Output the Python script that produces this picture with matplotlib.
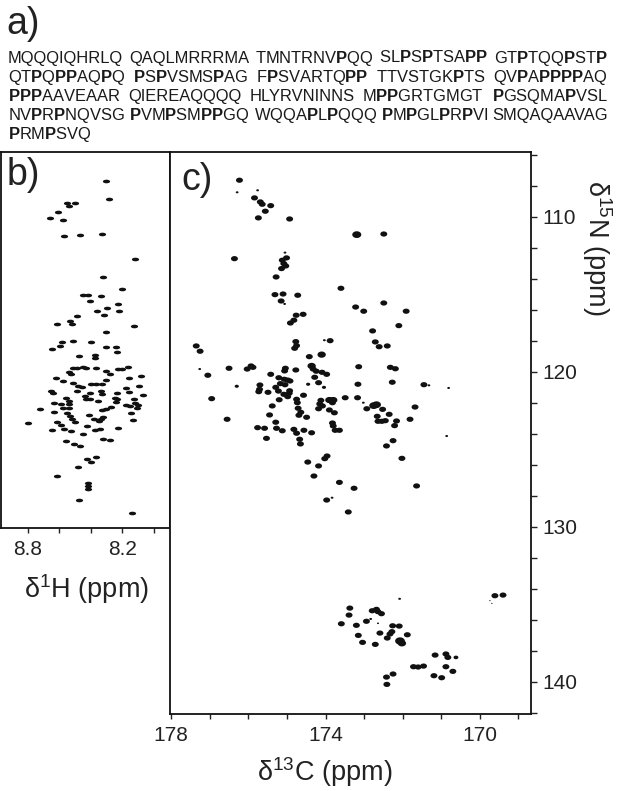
import re
import numpy as np
import matplotlib
matplotlib.use("Agg")
import matplotlib.pyplot as plt
from matplotlib.path import Path
from matplotlib.ticker import FixedLocator, MultipleLocator

plt.rcParams['font.family'] = ['Liberation Sans', 'DejaVu Sans']
plt.rcParams['mathtext.fontset'] = 'custom'
plt.rcParams['mathtext.rm'] = 'Liberation Sans'
plt.rcParams['mathtext.bf'] = 'Liberation Sans:bold'
plt.rcParams['mathtext.default'] = 'regular'

# ---------------- data ----------------
sequence_lines = [
    "MQQQIQHRLQ QAQLMRRRMA TMNTRNVPQQ SLPSPTSAPP GTPTQQPSTP",
    "QTPQPPAQPQ PSPVSMSPAG FPSVARTQPP TTVSTGKPTS QVPAPPPPAQ",
    "PPPAAVEAAR QIEREAQQQQ HLYRVNINNS MPPGRTGMGT PGSQMAPVSL",
    "NVPRPNQVSG PVMPSMPPGQ WQQAPLPQQQ PMPGLPRPVI SMQAQAAVAG",
    "PRMPSVQ",
]
bold_residue = "P"

# panel c: 13C' / 15N peaks (ppm) and relative intensity
c_c13 = [176.23, 176.29, 175.76, 175.84, 175.69, 175.64, 175.42, 175.56, 175.74, 174.93,
         176.36, 175.05, 175.01, 175.12, 175.08, 175.03, 175.14, 175.28, 173.60, 175.31,
         175.10, 174.72, 175.15, 175.06, 174.58, 174.76, 174.82, 174.91, 173.19, 172.49,
         173.22, 173.01, 172.49, 171.91, 172.10, 172.78, 172.71, 172.61, 172.40, 173.14,
         172.32, 172.19, 173.16, 172.27, 171.45, 171.32, 170.81, 173.49, 173.17, 173.02,
         172.75, 172.68, 172.93, 172.52, 171.68, 172.35, 172.66, 172.64, 172.54, 172.45,
         172.16, 171.81, 172.21, 170.86, 172.25, 172.42, 172.02, 177.35, 177.25, 177.26,
         177.05, 176.50, 176.03, 175.93, 175.88, 176.30, 176.95, 176.55, 174.77, 174.75,
         174.80, 174.03, 173.88, 174.42, 174.10, 175.04, 175.06, 174.77, 175.42, 174.36,
         174.32, 174.24, 174.09, 173.97, 174.28, 175.21, 175.07, 174.98, 174.92, 174.18,
         174.45, 175.70, 175.17, 175.05, 175.29, 175.71, 175.73, 175.49, 175.22, 174.93,
         174.94, 175.08, 174.98, 174.57, 174.04, 175.20, 174.75, 174.73, 174.12, 173.90,
         173.80, 173.82, 174.15, 174.08, 174.18, 175.38, 174.71, 174.64, 173.90, 173.77,
         175.45, 174.69, 174.49, 175.29, 173.82, 173.80, 175.76, 175.58, 175.27, 175.12,
         174.82, 174.56, 174.75, 174.36, 173.75, 173.64, 175.53, 174.67, 174.65, 174.46,
         174.02, 173.96, 174.18, 174.30, 173.64, 173.26, 173.97, 173.83, 173.41, 171.64,
         172.08, 172.79, 172.68, 172.64, 172.55, 172.64, 172.26, 172.09, 172.59, 172.28,
         172.33, 172.40, 171.88, 172.07, 172.02, 172.71, 171.16, 170.88, 170.83, 170.62,
         171.72, 171.60, 171.46, 170.88, 170.70, 172.25, 172.42, 171.19, 170.99, 172.41,
         169.61, 169.40, 169.74, 169.69, 173.59, 173.39, 173.37, 173.20, 173.15, 173.04,
         172.94, 172.83]
c_n15 = [107.65, 108.43, 108.30, 108.79, 109.05, 109.20, 109.29, 109.65, 110.08, 110.15,
         112.71, 112.32, 112.66, 112.81, 113.03, 113.18, 113.35, 113.89, 114.62, 115.03,
         114.99, 115.07, 115.44, 115.63, 116.30, 116.36, 116.68, 116.86, 111.16, 111.12,
         115.83, 116.10, 115.57, 116.10, 117.03, 117.37, 118.08, 118.39, 118.34, 119.68,
         119.72, 119.81, 120.81, 120.68, 120.84, 120.88, 121.05, 121.68, 121.68, 122.00,
         122.19, 122.13, 122.39, 122.43, 122.28, 122.75, 122.88, 123.20, 123.20, 123.16,
         123.18, 123.07, 123.48, 124.15, 124.45, 124.79, 125.59, 118.34, 118.68, 119.83,
         120.23, 119.78, 119.83, 119.63, 119.72, 120.94, 121.74, 123.07, 118.06, 118.32,
         118.49, 117.97, 118.00, 119.03, 118.90, 119.78, 119.95, 119.89, 120.17, 119.63,
         119.83, 119.97, 120.04, 120.17, 120.36, 120.39, 120.49, 120.54, 120.60, 120.71,
         120.81, 120.86, 120.77, 120.84, 121.01, 121.14, 121.29, 121.33, 121.25, 121.23,
         121.39, 121.46, 121.61, 121.52, 121.01, 121.81, 121.78, 122.00, 121.85, 121.83,
         121.83, 122.00, 122.08, 122.21, 122.39, 122.21, 122.36, 122.62, 122.47, 122.65,
         122.79, 122.81, 122.94, 123.26, 123.31, 123.50, 123.61, 123.65, 123.65, 123.81,
         123.72, 123.78, 123.97, 123.94, 123.78, 123.78, 124.30, 124.36, 124.66, 125.83,
         125.61, 125.44, 126.08, 126.73, 127.14, 127.52, 128.28, 128.13, 129.05, 127.37,
         134.65, 135.42, 135.33, 135.48, 135.61, 136.23, 136.39, 136.41, 136.86, 136.77,
         136.92, 137.18, 136.97, 137.37, 137.52, 137.59, 138.28, 138.21, 138.43, 138.43,
         139.03, 139.05, 138.99, 139.03, 139.33, 139.50, 139.70, 139.61, 139.74, 140.17,
         134.45, 134.41, 134.77, 134.94, 136.26, 135.70, 135.25, 136.36, 137.01, 137.46,
         136.10, 135.95]
c_int = [1, 0.4, 0.4, 1, 1, 1, 1, 1, 1, 1,
         1, 0.4, 1, 1, 1, 1, 1, 1, 1, 1,
         1, 1, 1, 0.4, 1, 1, 1, 1, 1.3, 1,
         1, 1, 1, 1, 1, 1, 1, 1, 1, 1,
         1, 1, 1, 1, 1, 0.4, 0.4, 1, 1, 0.4,
         1.3, 1.3, 1, 1, 1, 1, 1, 1, 1, 1,
         1, 1, 1, 0.4, 1, 1, 1, 1, 1, 0.4,
         1, 1, 1, 1, 1, 0.6, 1, 1, 1, 1,
         1, 0.4, 1, 1, 1.2, 1, 1, 1, 1, 1.2,
         1, 1, 1, 1, 1, 1, 1, 1, 1, 1,
         0.6, 1, 1, 1, 1, 1, 1, 1, 1, 1,
         1, 1, 1, 1, 0.6, 1, 1, 1, 1, 1.2,
         1.2, 1, 1, 1, 1, 1, 1, 1, 1, 1,
         1, 1, 1, 1, 1, 1, 1, 1, 1, 1,
         1, 1, 1, 1, 1, 1, 1, 1, 1, 1,
         1, 1, 1, 1, 1, 1, 1, 0.4, 1, 1,
         0.4, 1, 1, 1, 1, 0.3, 1, 1, 1, 1,
         1, 1, 1, 1.4, 1.2, 1, 1, 1, 1, 0.7,
         1, 1, 1, 1, 1, 1, 1, 1, 1, 1,
         1, 1, 0.2, 0.2, 1, 1, 1, 1, 1, 1,
         1, 0.4]

# panel b: 1H / 15N peaks (ppm)
b_h1 = [8.304, 8.285, 8.551, 8.503, 8.539, 8.610, 8.656, 8.577, 8.570, 8.469,
        8.325, 8.115, 8.319, 8.203, 8.452, 8.416, 8.332, 8.406, 8.224, 8.294,
        8.361, 8.313, 8.222, 8.490, 8.530, 8.522, 8.615, 8.127, 8.300, 8.644,
        8.597, 8.580, 8.513, 8.397, 8.304, 8.239, 8.235, 8.477, 8.374, 8.370,
        8.515, 8.488, 8.452, 8.427, 8.368, 8.536, 8.528, 8.302, 8.275, 8.226,
        8.201, 8.161, 8.077, 8.154, 8.621, 8.578, 8.513, 8.482, 8.454, 8.397,
        8.365, 8.302, 8.327, 8.091, 8.654, 8.640, 8.485, 8.406, 8.334, 8.327,
        8.232, 8.173, 8.159, 8.068, 8.555, 8.439, 8.431, 8.406, 8.351, 8.247,
        8.232, 8.237, 8.127, 8.634, 8.587, 8.541, 8.541, 8.577, 8.536, 8.720,
        8.327, 8.302, 8.268, 8.175, 8.148, 8.118, 8.099, 8.108, 8.634, 8.549,
        8.532, 8.410, 8.321, 8.142, 8.796, 8.616, 8.520, 8.503, 8.380, 8.349,
        8.334, 8.131, 8.589, 8.570, 8.644, 8.526, 8.422, 8.372, 8.338, 8.226,
        8.452, 8.321, 8.275, 8.555, 8.507, 8.465, 8.368, 8.422, 8.395, 8.482,
        8.616, 8.418, 8.416, 8.418, 8.473, 8.134]
b_n15 = [107.70, 108.84, 109.10, 109.10, 109.33, 109.70, 110.10, 110.19, 111.23, 111.16,
         111.14, 112.73, 113.91, 114.66, 115.07, 115.03, 115.12, 115.44, 115.61, 115.87,
         116.10, 116.32, 116.10, 116.41, 116.71, 116.92, 116.90, 117.07, 117.42, 118.54,
         118.32, 118.10, 118.02, 118.10, 118.39, 118.43, 118.71, 118.99, 118.92, 119.12,
         119.78, 119.74, 119.68, 119.78, 119.78, 120.00, 120.15, 119.95, 120.17, 119.85,
         119.85, 119.72, 120.26, 120.41, 120.39, 120.58, 120.73, 120.92, 120.97, 120.81,
         120.79, 120.54, 120.77, 120.90, 121.25, 121.37, 121.23, 121.35, 121.25, 121.42,
         121.35, 121.05, 121.29, 121.52, 121.68, 121.57, 121.78, 121.76, 121.89, 121.68,
         121.74, 121.95, 121.78, 122.04, 122.08, 122.08, 121.87, 122.34, 122.36, 122.41,
         122.47, 122.43, 122.30, 122.15, 122.21, 122.00, 122.17, 122.32, 122.62, 122.65,
         122.86, 122.81, 122.94, 122.68, 123.29, 123.23, 123.07, 123.25, 123.07, 123.20,
         123.07, 123.12, 123.44, 123.68, 123.78, 123.81, 123.52, 123.74, 123.70, 123.65,
         124.02, 124.32, 124.41, 124.49, 124.68, 124.81, 125.48, 125.65, 125.85, 126.13,
         126.75, 127.16, 127.35, 127.55, 128.30, 129.10]

c_xticks = [178, 174, 170]
c_yticks = [110, 120, 130, 140]
b_xticks = [8.8, 8.2]
b_xminor = [8.6, 8.4, 8.0]

# ---------------- figure ----------------
W, H = 624, 791
fig = plt.figure(figsize=(W / 100, H / 100), dpi=100)
renderer = fig.canvas.get_renderer()


def fx(px):
    return px / W


def fy(py):
    return 1 - py / H


INK = '#111111'
TXT = '#222222'
theta = np.linspace(0, 2 * np.pi, 48)
ell_c = Path(np.column_stack([np.cos(theta), 0.75 * np.sin(theta)]))
ell_b = Path(np.column_stack([np.cos(theta), 0.5 * np.sin(theta)]))

# panel b
ax_b = fig.add_axes([fx(1), fy(528), fx(169), (528 - 152) / H])
ax_b.scatter(b_h1, b_n15, s=5.2 ** 2, marker=ell_b, color=INK, linewidths=0)
ax_b.set_xlim(8.971, 7.895)
ax_b.set_ylim(130.08, 105.83)
ax_b.xaxis.set_major_locator(FixedLocator(b_xticks))
ax_b.xaxis.set_minor_locator(FixedLocator(b_xminor))
ax_b.xaxis.set_major_formatter(matplotlib.ticker.FormatStrFormatter('%.1f'))
ax_b.set_yticks([])
ax_b.tick_params(axis='x', which='both', direction='out', length=3.5, width=1,
                 labelsize=15, pad=5, colors=TXT)

# panel c
ax_c = fig.add_axes([fx(170), fy(714), fx(361), (714 - 152) / H])
sizes = [(5.0 * v) ** 2 for v in c_int]
ax_c.scatter(c_c13, c_n15, s=sizes, marker=ell_c, color=INK, linewidths=0)
ax_c.set_xlim(178.03, 168.675)
ax_c.set_ylim(142.08, 105.83)
ax_c.xaxis.set_major_locator(FixedLocator(c_xticks))
ax_c.xaxis.set_minor_locator(MultipleLocator(1))
ax_c.yaxis.tick_right()
ax_c.yaxis.set_major_locator(FixedLocator(c_yticks))
ax_c.yaxis.set_minor_locator(MultipleLocator(2))
ax_c.tick_params(axis='x', which='both', direction='out', length=3.5, width=1,
                 labelsize=15, pad=5, colors=TXT)
ax_c.tick_params(axis='y', which='both', direction='out', length=4.5, width=1,
                 labelsize=15, pad=4, colors=TXT)

for ax in (ax_b, ax_c):
    for sp in ax.spines.values():
        sp.set_linewidth(1.3)
        sp.set_color('#111111')

# axis labels
LAB_FS = 19.5
fig.text(fx(86), fy(589), "δ$^{1}$H (ppm)", ha='center', va='center', fontsize=LAB_FS, color=TXT)
fig.text(fx(325), fy(772), "δ$^{13}$C (ppm)", ha='center', va='center', fontsize=LAB_FS, color=TXT)
fig.text(fx(597), fy(248), "δ$^{15}$N (ppm)", ha='center', va='center', rotation=-90,
         fontsize=LAB_FS, color=TXT)

# panel letters
fig.text(fx(6), fy(34), "a)", fontsize=27, va='baseline', color=TXT)
fig.text(fx(7), fy(185), "b)", fontsize=27, va='baseline', color=TXT)
fig.text(fx(181), fy(190), "c)", fontsize=27, va='baseline', color=TXT)

# sequence text (P residues in bold), justified lines
SEQ_FS = 11.9
x_left, x_right = 8, 608
baselines = [62.5, 81.7, 101.0, 120.2, 139.5]


def to_math(group):
    return re.sub('(%s+)' % bold_residue, lambda m: r'$\mathbf{%s}$' % m.group(1), group)


for line, yb in zip(sequence_lines, baselines):
    groups = line.split(' ')
    texts = [fig.text(0, fy(yb), to_math(g), fontsize=SEQ_FS, va='baseline', color='#1a1a1a')
             for g in groups]
    widths = [t.get_window_extent(renderer=renderer).width for t in texts]
    if len(groups) == 5:
        gap = ((x_right - x_left) - sum(widths)) / (len(groups) - 1)
    else:
        gap = 8
    x = x_left
    for t, w in zip(texts, widths):
        t.set_x(fx(x))
        x += w + gap

fig.savefig("out.png", dpi=100)
